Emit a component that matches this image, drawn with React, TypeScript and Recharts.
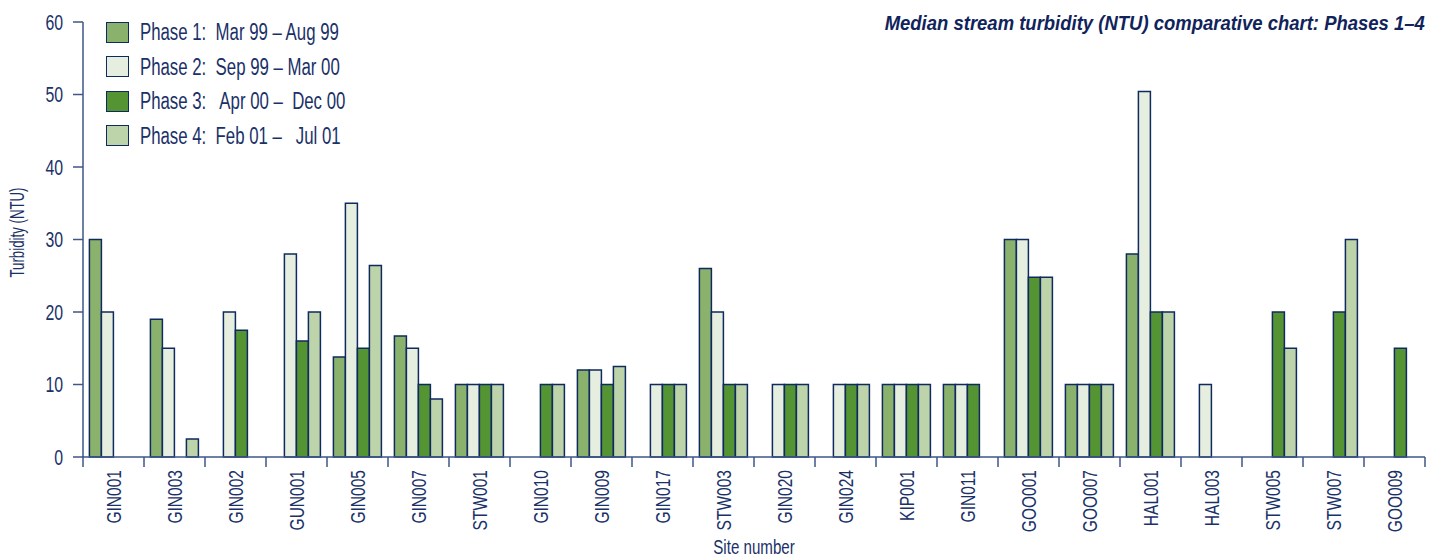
import React from 'react';
import { BarChart, Bar, XAxis, YAxis, Legend, Label } from 'recharts';

const categories = ['GIN001', 'GIN003', 'GIN002', 'GUN001', 'GIN005', 'GIN007', 'STW001', 'GIN010', 'GIN009', 'GIN017', 'STW003', 'GIN020', 'GIN024', 'KIP001', 'GIN011', 'GOO001', 'GOO007', 'HAL001', 'HAL003', 'STW005', 'STW007', 'GOO009'];
const phase1 = [30, 19, null, null, 13.8, 16.7, 10, null, 12, null, 26, null, null, 10, 10, 30, 10, 28, null, null, null, null];
const phase2 = [20, 15, 20, 28, 35, 15, 10, null, 12, 10, 20, 10, 10, 10, 10, 30, 10, 50.4, 10, null, null, null];
const phase3 = [null, null, 17.5, 16, 15, 10, 10, 10, 10, 10, 10, 10, 10, 10, 10, 24.8, 10, 20, null, 20, 20, 15];
const phase4 = [null, 2.5, null, 20, 26.4, 8, 10, 10, 12.5, 10, 10, 10, 10, 10, null, 24.8, 10, 20, null, 15, 30, null];
const yTicks = [0, 10, 20, 30, 40, 50, 60];
const seriesNames = [
  'Phase 1:  Mar 99 \u2013 Aug 99',
  'Phase 2:  Sep 99 \u2013 Mar 00',
  'Phase 3:   Apr 00 \u2013  Dec 00',
  'Phase 4:  Feb 01 \u2013   Jul 01',
];
const title = 'Median stream turbidity (NTU) comparative chart: Phases 1\u20134';

const data = categories.map((c, i) => ({ site: c, p1: phase1[i], p2: phase2[i], p3: phase3[i], p4: phase4[i] }));

const COLORS = ['#8bb26d', '#e6eedf', '#559433', '#bdd3aa'];
const NAVY = '#1a3168';
const STROKE = '#0f2a5e';
const AXIS = '#3f5689';
const FONT = "'Liberation Sans', Arial, sans-serif";
const SQUEEZE = 0.72;

const XTick = (props: any) => {
  const { x, y, payload, index } = props;
  const half = payload && typeof payload.offset === 'number' && payload.offset > 0 ? payload.offset : 30.5;
  const first = index === 0;
  const last = index === categories.length - 1;
  const tx = x + 7.5;
  const ty = y + 13;
  return (
    <g>
      <line x1={x - half} x2={x - half} y1={first ? y - 1 : y} y2={y + 10} stroke={AXIS} strokeWidth={1.5} />
      {last && <line x1={x + half} x2={x + half} y1={y} y2={y + 10} stroke={AXIS} strokeWidth={1.5} />}
      <text transform={`translate(${tx},${ty}) rotate(-90) scale(0.74,1)`} textAnchor="end" fontSize={21} fill={NAVY} fontFamily={FONT}>
        {payload.value}
      </text>
    </g>
  );
};

const YTick = (props: any) => {
  const { x, y, payload } = props;
  return (
    <text transform={`translate(${x},${y}) scale(${SQUEEZE},1)`} textAnchor="end" dy="0.36em" fontSize={22} fill={NAVY} fontFamily={FONT}>
      {payload.value}
    </text>
  );
};

const LegendContent = () => (
  <div style={{ fontFamily: FONT, color: NAVY }}>
    {seriesNames.map((n, i) => (
      <div key={i} style={{ display: 'flex', alignItems: 'center', height: 34.5 }}>
        <div style={{ width: 21, height: 19, background: COLORS[i], border: `1.5px solid ${STROKE}`, marginRight: 11, flex: 'none' }} />
        <span style={{ fontSize: 23, whiteSpace: 'pre', display: 'inline-block', transform: `scaleX(0.73)`, transformOrigin: 'left center', lineHeight: '26px' }}>{n}</span>
      </div>
    ))}
  </div>
);

const YLabel = (props: any) => {
  const vb = props.viewBox || { x: 0, y: 22, width: 83, height: 435 };
  const x = 18;
  const y = vb.y + vb.height / 2 - 7;
  return (
    <text transform={`translate(${x},${y}) rotate(-90) scale(0.68,1)`} textAnchor="middle" dominantBaseline="central" fontSize={19.5} fill={NAVY} fontFamily={FONT}>
      Turbidity (NTU)
    </text>
  );
};

const XLabel = (props: any) => {
  const vb = props.viewBox || { x: 83, y: 457, width: 1342, height: 103 };
  const x = vb.x + vb.width / 2;
  return (
    <text transform={`translate(${x},554) scale(0.72,1)`} textAnchor="middle" fontSize={21} fill={NAVY} fontFamily={FONT}>
      Site number
    </text>
  );
};

export default function App() {
  return (
    <div style={{ position: 'absolute', left: 0, top: 0, width: 1437, height: 560, background: '#fff', fontFamily: FONT }}>
      <BarChart
        width={1437}
        height={560}
        data={data}
        margin={{ top: 22, right: 12, left: 0, bottom: 0 }}
        barCategoryGap="10.5%"
        barGap={0}
      >
        <XAxis
          dataKey="site"
          height={103}
          interval={0}
          axisLine={{ stroke: AXIS, strokeWidth: 1.5 }}
          tickLine={false}
          tickSize={0}
          tickMargin={0}
          tick={<XTick />}
        >
          <Label content={<XLabel />} />
        </XAxis>
        <YAxis
          width={83}
          domain={[0, 60]}
          ticks={yTicks}
          interval={0}
          tickSize={10}
          tickMargin={10}
          axisLine={{ stroke: AXIS, strokeWidth: 1.5 }}
          tickLine={{ stroke: AXIS, strokeWidth: 1.5 }}
          tick={<YTick />}
        >
          <Label content={<YLabel />} />
        </YAxis>
        <Legend
          layout="vertical"
          align="center"
          verticalAlign="middle"
          content={<LegendContent />}
          wrapperStyle={{ left: 106, top: 15, width: 300 }}
        />
        <Bar dataKey="p1" name={seriesNames[0]} fill={COLORS[0]} stroke={STROKE} strokeWidth={1.5} isAnimationActive={false} />
        <Bar dataKey="p2" name={seriesNames[1]} fill={COLORS[1]} stroke={STROKE} strokeWidth={1.5} isAnimationActive={false} />
        <Bar dataKey="p3" name={seriesNames[2]} fill={COLORS[2]} stroke={STROKE} strokeWidth={1.5} isAnimationActive={false} />
        <Bar dataKey="p4" name={seriesNames[3]} fill={COLORS[3]} stroke={STROKE} strokeWidth={1.5} isAnimationActive={false} />
      </BarChart>
      <div
        style={{
          position: 'absolute',
          right: 12,
          top: 10,
          fontSize: 21,
          fontWeight: 'bold',
          fontStyle: 'italic',
          color: '#10235a',
          fontFamily: FONT,
          whiteSpace: 'nowrap',
          lineHeight: '26px',
          transform: 'scaleX(0.88)',
          transformOrigin: 'right center',
        }}
      >
        {title}
      </div>
    </div>
  );
}
